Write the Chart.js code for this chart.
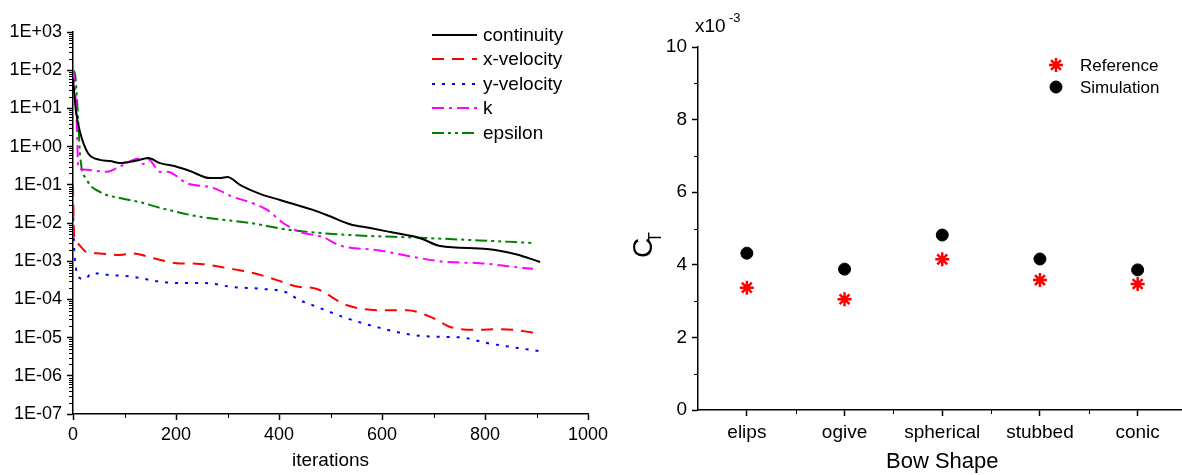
<!DOCTYPE html>
<html>
<head>
<meta charset="utf-8">
<script src="https://cdn.jsdelivr.net/npm/chart.js@4.4.0/dist/chart.umd.min.js"></script>
<style>
  body { margin: 0; background: #fff; }
  #wrap { position: relative; width: 1182px; height: 475px; overflow: hidden; }
  canvas { position: absolute; top: 0; }
  #residuals { left: 0; }
  #thrust { left: 600px; }
</style>
</head>
<body>
<div id="wrap">
  <canvas id="residuals" width="620" height="475"></canvas>
  <canvas id="thrust" width="596" height="475"></canvas>
</div>
<script>
// ---- residual history (left) ----
const contIter = [0, 6, 14, 29, 52, 72, 91, 120, 146, 169, 200, 227, 266, 285, 300, 324, 363, 402, 466, 499, 538, 577, 616, 674, 713, 804, 862, 907];
const contVal = [60, 8, 2.3, 0.68, 0.45, 0.42, 0.37, 0.42, 0.50, 0.37, 0.30, 0.23, 0.15, 0.15, 0.16, 0.10, 0.058, 0.040, 0.022, 0.015, 0.0093, 0.0074, 0.0058, 0.0040, 0.0025, 0.0021, 0.0015, 0.00095];

const xvelIter = [0, 2, 8, 27, 52, 91, 117, 155, 202, 247, 299, 350, 396, 441, 466, 532, 596, 649, 694, 738, 790, 823, 854, 907];
const xvelVal = [0.1, 0.005, 0.003, 0.0017, 0.0016, 0.00145, 0.0016, 0.0012, 0.00089, 0.00085, 0.00066, 0.00049, 0.00032, 0.00021, 0.0002, 0.00007, 0.000052, 0.000052, 0.000035, 0.000018, 0.000016, 0.0000166, 0.000016, 0.0000126];

const yvelIter = [0, 2, 4, 10, 23, 37, 66, 117, 163, 202, 253, 311, 363, 416, 437, 466, 532, 596, 660, 713, 757, 804, 854, 907];
const yvelVal = [0.025, 0.0025, 0.001, 0.00039, 0.00034, 0.00049, 0.00044, 0.00039, 0.0003, 0.00027, 0.00027, 0.00021, 0.00019, 0.00015, 0.0001, 0.00007, 0.000032, 0.000018, 0.0000117, 0.0000105, 0.00001, 0.0000072, 0.0000056, 0.0000044];

const kIter = [0, 4, 8, 10, 19, 66, 91, 117, 126, 136, 146, 169, 183, 221, 272, 311, 344, 377, 408, 441, 485, 518, 596, 660, 726, 790, 854, 893];
const kVal = [100, 30, 2.3, 0.28, 0.25, 0.22, 0.30, 0.45, 0.48, 0.35, 0.47, 0.22, 0.22, 0.11, 0.083, 0.048, 0.035, 0.022, 0.010, 0.0058, 0.0043, 0.0026, 0.0019, 0.0013, 0.00095, 0.00089, 0.00071, 0.00063];

const epsIter = [0, 4, 10, 14, 27, 52, 91, 130, 169, 247, 344, 421, 532, 674, 790, 893];
const epsVal = [100, 80, 5, 0.54, 0.135, 0.065, 0.045, 0.035, 0.025, 0.0145, 0.010, 0.0066, 0.0049, 0.0041, 0.0035, 0.0030];

const resYTickValues = [1e-7, 1e-6, 1e-5, 1e-4, 1e-3, 1e-2, 1e-1, 1e0, 1e1, 1e2, 1e3];
const resYTickLabels = ['1E-07', '1E-06', '1E-05', '1E-04', '1E-03', '1E-02', '1E-01', '1E+00', '1E+01', '1E+02', '1E+03'];
const resXTickValues = [0, 200, 400, 600, 800, 1000];
const resXTickLabels = ['0', '200', '400', '600', '800', '1000'];

// ---- thrust coefficient (right), values in units of 1e-3 ----
const bowShapes = ['elips', 'ogive', 'spherical', 'stubbed', 'conic'];
const ctReference = [3.37, 3.05, 4.15, 3.58, 3.47];
const ctSimulation = [4.32, 3.88, 4.82, 4.16, 3.86];
const ctTickValues = [0, 2, 4, 6, 8, 10];
const ctTickLabels = ['0', '2', '4', '6', '8', '10'];

const FONT = "'Liberation Sans', Arial, sans-serif";
Chart.defaults.font.family = FONT;
Chart.defaults.font.size = 18;
Chart.defaults.color = '#000';

const pts = (xs, ys) => xs.map((x, i) => ({ x: x, y: ys[i] }));

const axisLook = {
  grid: { display: true, drawOnChartArea: false, drawTicks: true, tickLength: 6, color: '#000', tickWidth: 1.5 },
  border: { display: true, color: '#000', width: 1.5 }
};

function tick(ctx, x1, y1, x2, y2) {
  ctx.beginPath(); ctx.moveTo(x1, y1); ctx.lineTo(x2, y2); ctx.stroke();
}

const residualExtras = {
  id: 'residualExtras',
  afterDraw(chart) {
    const ctx = chart.ctx, xs = chart.scales.x, ys = chart.scales.y;
    ctx.save();
    ctx.strokeStyle = '#000';
    ctx.lineWidth = 1;
    // minor log ticks
    for (let e = -7; e < 3; e++) {
      for (let m = 2; m < 10; m++) {
        const py = Math.round(ys.getPixelForValue(m * Math.pow(10, e))) + 0.5;
        tick(ctx, xs.left - 4, py, xs.left, py);
      }
    }
    for (let v = 100; v < 1000; v += 200) {
      const px = Math.round(xs.getPixelForValue(v)) + 0.5;
      tick(ctx, px, ys.bottom, px, ys.bottom + 4);
    }
    // legend
    const lx = 432, rows = [35, 59, 84, 108, 133];
    ctx.font = '19px ' + FONT;
    ctx.textBaseline = 'middle';
    ctx.textAlign = 'left';
    chart.data.datasets.forEach((ds, i) => {
      ctx.strokeStyle = ds.borderColor;
      ctx.lineWidth = ds.borderWidth;
      ctx.setLineDash(ds.borderDash || []);
      tick(ctx, lx, rows[i], lx + 45, rows[i]);
      ctx.setLineDash([]);
      ctx.fillStyle = '#000';
      ctx.fillText(ds.label, lx + 51, rows[i] + 1);
    });
    ctx.restore();
  }
};

new Chart(document.getElementById('residuals'), {
  type: 'line',
  data: {
    datasets: [
      { label: 'continuity', data: pts(contIter, contVal), borderColor: '#000000', borderWidth: 2, borderDash: [] },
      { label: 'x-velocity', data: pts(xvelIter, xvelVal), borderColor: '#ff0000', borderWidth: 2, borderDash: [12, 8] },
      { label: 'y-velocity', data: pts(yvelIter, yvelVal), borderColor: '#0000ff', borderWidth: 2, borderDash: [3, 7] },
      { label: 'k', data: pts(kIter, kVal), borderColor: '#ff00ff', borderWidth: 2, borderDash: [12, 5, 3, 5] },
      { label: 'epsilon', data: pts(epsIter, epsVal), borderColor: '#008000', borderWidth: 2, borderDash: [12, 4, 3, 4, 3, 4] }
    ]
  },
  options: {
    responsive: false,
    animation: false,
    layout: { padding: { top: 32, right: 32, left: 0, bottom: 0 } },
    elements: { point: { radius: 0 }, line: { cubicInterpolationMode: 'monotone' } },
    plugins: { legend: { display: false }, tooltip: { enabled: false } },
    scales: {
      x: {
        type: 'linear', min: 0, max: 1000,
        ...axisLook,
        afterFit: s => { s.height = 61; },
        afterBuildTicks: s => { s.ticks = resXTickValues.map(v => ({ value: v })); },
        ticks: { autoSkip: false, maxRotation: 0, padding: 4, callback: (v, i) => resXTickLabels[i] },
        title: { display: true, text: 'iterations', font: { size: 19 }, padding: { top: 1, bottom: 3 } }
      },
      y: {
        type: 'logarithmic', min: 1e-7, max: 1e3,
        ...axisLook,
        afterFit: s => { s.width = 73; },
        afterBuildTicks: s => { s.ticks = resYTickValues.map(v => ({ value: v })); },
        ticks: { autoSkip: false, padding: 5, callback: (v, i) => resYTickLabels[i] }
      }
    }
  },
  plugins: [residualExtras]
});

const thrustExtras = {
  id: 'thrustExtras',
  afterDraw(chart) {
    const ctx = chart.ctx, xs = chart.scales.x, ys = chart.scales.y;
    ctx.save();
    ctx.strokeStyle = '#000';
    ctx.lineWidth = 1;
    for (let v = 1; v < 10; v += 2) {
      const py = Math.round(ys.getPixelForValue(v)) + 0.5;
      tick(ctx, xs.left - 4, py, xs.left, py);
    }
    const half = (xs.getPixelForValue(1) - xs.getPixelForValue(0)) / 2;
    for (let i = 0; i < bowShapes.length; i++) {
      const px = Math.round(xs.getPixelForValue(i) + half) + 0.5;
      tick(ctx, px, ys.bottom, px, ys.bottom + 4);
    }
    // axis multiplier
    ctx.fillStyle = '#000';
    ctx.textAlign = 'left';
    ctx.textBaseline = 'alphabetic';
    ctx.font = '19px ' + FONT;
    ctx.fillText('x10', 95, 32);
    ctx.font = '13px ' + FONT;
    ctx.fillText('-3', 129, 22);
    // y title C_T
    ctx.save();
    ctx.translate(42, 247);
    ctx.rotate(-Math.PI / 2);
    ctx.font = '28px ' + FONT;
    ctx.fillText('C', -11, 10);
    ctx.font = '18px ' + FONT;
    ctx.fillText('T', 4, 19);
    ctx.restore();
    // legend
    const lx = 456, rows = [65, 87];
    ctx.font = '17px ' + FONT;
    ctx.textBaseline = 'middle';
    chart.data.datasets.forEach((ds, i) => {
      ctx.strokeStyle = ds.borderColor;
      ctx.fillStyle = ds.backgroundColor;
      ctx.lineWidth = ds.pointBorderWidth;
      Chart.helpers.drawPoint(ctx, { pointStyle: ds.pointStyle, radius: ds.pointRadius, rotation: 0, borderWidth: ds.pointBorderWidth }, lx, rows[i]);
      ctx.fillStyle = '#000';
      ctx.fillText(ds.label, lx + 24, rows[i] + 1);
    });
    ctx.restore();
  }
};

new Chart(document.getElementById('thrust'), {
  type: 'line',
  data: {
    labels: bowShapes,
    datasets: [
      { label: 'Reference', data: ctReference, showLine: false, pointStyle: 'star', pointRadius: 7,
        pointBorderWidth: 2.5, borderColor: '#ff0000', backgroundColor: '#ff0000' },
      { label: 'Simulation', data: ctSimulation, showLine: false, pointStyle: 'circle', pointRadius: 6,
        pointBorderWidth: 1, borderColor: '#000000', backgroundColor: '#000000' }
    ]
  },
  options: {
    responsive: false,
    animation: false,
    layout: { padding: { top: 47, right: 0, left: 0, bottom: 0 } },
    plugins: { legend: { display: false }, tooltip: { enabled: false } },
    scales: {
      x: {
        type: 'category', offset: true,
        ...axisLook,
        grid: { ...axisLook.grid, offset: false },
        afterFit: s => { s.height = 65; },
        ticks: { autoSkip: false, maxRotation: 0, padding: 5, font: { size: 19 } },
        title: { display: true, text: 'Bow Shape', font: { size: 22 }, padding: { top: 2, bottom: 0 } }
      },
      y: {
        min: 0, max: 10,
        ...axisLook,
        afterFit: s => { s.width = 98; },
        afterBuildTicks: s => { s.ticks = ctTickValues.map(v => ({ value: v })); },
        ticks: { autoSkip: false, padding: 5, font: { size: 19 }, callback: (v, i) => ctTickLabels[i] }
      }
    }
  },
  plugins: [thrustExtras]
});
</script>
</body>
</html>
